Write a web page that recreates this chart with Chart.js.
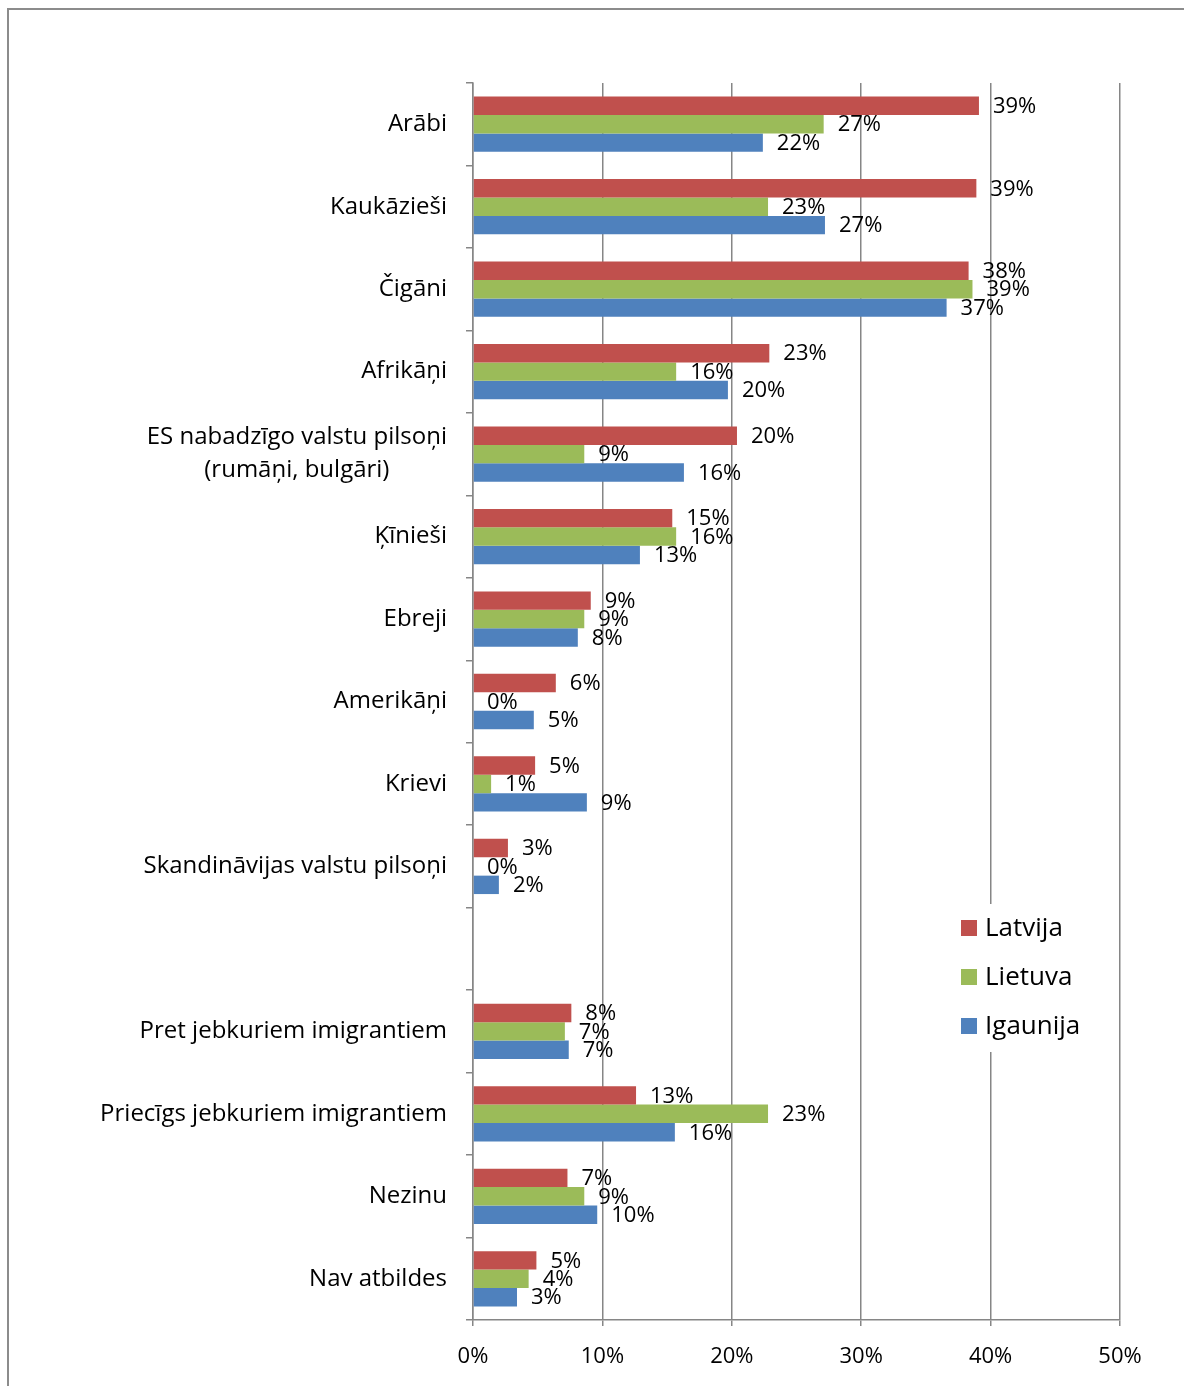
<!DOCTYPE html>
<html>
<head>
<meta charset="utf-8">
<script src="https://cdn.jsdelivr.net/npm/chart.js@4/dist/chart.umd.min.js"></script>
<style>
  html, body { margin: 0; padding: 0; background: #ffffff; }
  canvas { display: block; }
</style>
</head>
<body>
<canvas id="c" width="1184" height="1386"></canvas>
<script>
// ---- data ----
const categories = [
  'Arābi', 'Kaukāzieši', 'Čigāni', 'Afrikāņi',
  ['ES nabadzīgo valstu pilsoņi', '(rumāņi, bulgāri)'],
  'Ķīnieši', 'Ebreji', 'Amerikāņi', 'Krievi',
  'Skandināvijas valstu pilsoņi', '',
  'Pret jebkuriem imigrantiem', 'Priecīgs jebkuriem imigrantiem',
  'Nezinu', 'Nav atbildes'
];
const seriesNames = ['Latvija', 'Lietuva', 'Igaunija'];
const latvija  = [39.1, 38.9, 38.3, 22.9, 20.4, 15.4, 9.1, 6.4, 4.8, 2.7, null, 7.6, 12.6, 7.3, 4.9];
const lietuva  = [27.1, 22.8, 38.6, 15.7, 8.6, 15.7, 8.6, 0, 1.4, 0, null, 7.1, 22.8, 8.6, 4.3];
const igaunija = [22.4, 27.2, 36.6, 19.7, 16.3, 12.9, 8.1, 4.7, 8.8, 2.0, null, 7.4, 15.6, 9.6, 3.4];
const xTicks = [0, 10, 20, 30, 40, 50];

const colors = ['#C0504D', '#9BBB59', '#4F81BD'];
const FONT = '"Open Sans", "Noto Sans", sans-serif';

const decor = {
  id: 'decor',
  beforeDraw(chart) {
    const ctx = chart.ctx;
    ctx.save();
    ctx.fillStyle = '#ffffff';
    ctx.fillRect(0, 0, chart.width, chart.height);
    ctx.restore();
  },
  afterDraw(chart) {
    const ctx = chart.ctx;
    const yScale = chart.scales.y;
    ctx.save();
    // outer frame
    ctx.strokeStyle = '#8c8c8c';
    ctx.lineWidth = 2;
    ctx.beginPath();
    ctx.moveTo(8, chart.height + 5);
    ctx.lineTo(8, 9);
    ctx.lineTo(chart.width + 5, 9);
    ctx.stroke();

    // category labels
    ctx.fillStyle = '#000000';
    ctx.font = '24px ' + FONT;
    ctx.textBaseline = 'middle';
    const rightX = yScale.right - 26;
    categories.forEach((lab, i) => {
      const y = yScale.getPixelForValue(i);
      if (Array.isArray(lab)) {
        const w = Math.max(...lab.map(l => ctx.measureText(l).width));
        const cx = rightX - w / 2;
        const lh = 33;
        ctx.textAlign = 'center';
        lab.forEach((l, k) => {
          ctx.fillText(l, cx, y + (k - (lab.length - 1) / 2) * lh);
        });
      } else {
        ctx.textAlign = 'right';
        ctx.fillText(lab, rightX, y);
      }
    });

    // data labels
    ctx.font = '22px ' + FONT;
    ctx.textAlign = 'left';
    chart.data.datasets.forEach((ds, di) => {
      const meta = chart.getDatasetMeta(di);
      meta.data.forEach((el, j) => {
        const v = ds.data[j];
        if (v === null || v === undefined) return;
        ctx.fillText(Math.round(v) + '%', el.x + 14, el.y + 1);
      });
    });

    // legend
    ctx.fillStyle = '#ffffff';
    ctx.fillRect(948, 904, 150, 148);
    ctx.font = '26px ' + FONT;
    ctx.textAlign = 'left';
    seriesNames.forEach((n, i) => {
      const cy = 928 + i * 49;
      ctx.fillStyle = colors[i];
      ctx.fillRect(961, cy - 8, 16, 16);
      ctx.fillStyle = '#000000';
      ctx.fillText(n, 985, cy + 1);
    });
    ctx.restore();
  }
};

new Chart(document.getElementById('c'), {
  type: 'bar',
  data: {
    labels: categories,
    datasets: [
      { label: seriesNames[0], data: latvija,  backgroundColor: colors[0] },
      { label: seriesNames[1], data: lietuva,  backgroundColor: colors[1] },
      { label: seriesNames[2], data: igaunija, backgroundColor: colors[2] }
    ]
  },
  options: {
    indexAxis: 'y',
    responsive: false,
    animation: false,
    events: [],
    layout: { padding: { left: 0, right: 64, top: 83, bottom: 0 } },
    datasets: { bar: { categoryPercentage: 0.67, barPercentage: 1.0 } },
    plugins: { legend: { display: false }, tooltip: { enabled: false } },
    scales: {
      x: {
        min: 0, max: 50,
        afterFit(s) { s.height = 66; },
        afterBuildTicks(s) { s.ticks = xTicks.map(v => ({ value: v })); },
        ticks: {
          callback: v => v + '%',
          color: '#000000',
          font: { family: FONT, size: 22 },
          padding: 18
        },
        grid: { color: '#868686', lineWidth: 1.5, tickLength: 6 },
        border: { color: '#868686', width: 1.5 }
      },
      y: {
        afterFit(s) { s.width = 473; },
        ticks: { display: false },
        grid: { offset: true, drawOnChartArea: false, drawTicks: true, tickLength: 7, color: '#868686', lineWidth: 1.5 },
        border: { color: '#868686', width: 1.5 }
      }
    }
  },
  plugins: [decor]
});
</script>
</body>
</html>
